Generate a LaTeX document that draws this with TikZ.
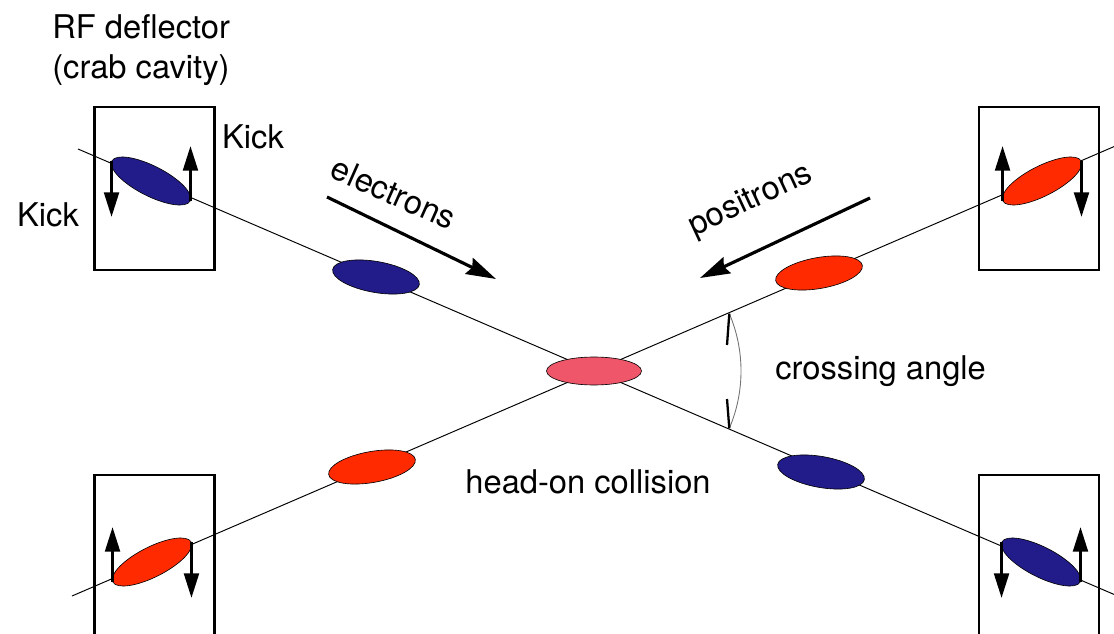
\documentclass[tikz,border=0pt]{standalone}
\usepackage{fontspec}
\setmainfont{TeX Gyre Heros}
\usetikzlibrary{shapes.geometric,arrows.meta}
\definecolor{eblue}{RGB}{34,28,138}
\definecolor{pred}{RGB}{255,42,0}
\definecolor{cpink}{RGB}{240,86,106}
\tikzset{
  beam/.style={line width=0.55pt,black},
  bunch/.style={ellipse,draw=black,line width=0.35pt,inner sep=0pt},
  crabbunch/.style={bunch,minimum width=1.76cm,minimum height=0.6cm},
  midbunch/.style={bunch,minimum width=1.76cm,minimum height=0.62cm},
  cavity/.style={draw,line width=1.4pt,minimum width=2.4cm,minimum height=3.26cm,inner sep=0pt},
  kick/.style={line width=1.4pt,-{Triangle[length=14pt,width=8.5pt]}},
  flow/.style={line width=1.8pt,-{Stealth[length=17pt,width=10pt,inset=2pt]}},
  lbl/.style={font=\fontsize{18.6}{22}\selectfont,inner sep=0pt},
}
\begin{document}
\begin{tikzpicture}[x=0.02cm,y=-0.02cm]
\useasboundingbox (0,0) rectangle (1114,634);
\clip (0,0) rectangle (1114,634);
% beam lines
\coordinate (eL) at (78,149);
\coordinate (eR) at (1120,597);
\coordinate (pL) at (72,596);
\coordinate (pR) at (1120,144);
\coordinate (C0) at (594,371);
\draw[beam] (eL) -- (C0) -- (eR);
\draw[beam] (pL) -- (C0) -- (pR);
% cavities
\node[cavity] (boxTL) at (154.5,188.5) {};
\node[cavity] (boxTR) at (1039,188.5) {};
\node[cavity] (boxBL) at (154.5,556.5) {};
\node[cavity] (boxBR) at (1039,556.5) {};
% crab bunches
\node[crabbunch,fill=eblue,rotate=-27] (tl) at (151,181) {};
\node[crabbunch,fill=pred,rotate=27] (tr) at (1042,181) {};
\node[crabbunch,fill=pred,rotate=27] (bl) at (152,562) {};
\node[crabbunch,fill=eblue,rotate=-27] (br) at (1041,562) {};
% kicks
\draw[kick] (tl.west) -- ++(0,56);
\draw[kick] (tl.east) -- ++(0,-55);
\draw[kick] (tr.west) -- ++(0,-55);
\draw[kick] (tr.east) -- ++(0,56);
\draw[kick] (bl.west) -- ++(0,-55);
\draw[kick] (bl.east) -- ++(0,56);
\draw[kick] (br.west) -- ++(0,56);
\draw[kick] (br.east) -- ++(0,-55);
% travelling bunches
\node[midbunch,fill=eblue,rotate=-10] (e1) at (376,277) {};
\node[midbunch,fill=pred,rotate=10] (p1) at (819,273) {};
\node[midbunch,fill=pred,rotate=10] (p2) at (372,467) {};
\node[midbunch,fill=eblue,rotate=-10] (e2) at (821,472) {};
\node[bunch,fill=cpink,minimum width=1.9cm,minimum height=0.56cm] (C) at (C0) {};
% direction arrows
\coordinate (ea1) at (327,197);
\coordinate (ea2) at (496,279);
\coordinate (pa1) at (870,198);
\coordinate (pa2) at (700,278);
\draw[flow] (ea1) -- (ea2);
\draw[flow] (pa1) -- (pa2);
% crossing angle
\coordinate (ca1) at (729.3,313.6);
\coordinate (ca2) at (729.3,428.4);
\draw[line width=0.5pt,black!55] (ca1) .. controls (744.9,350.3) and (744.9,391.7) .. (ca2);
\draw[line width=1.3pt] (ca1) -- (727,345);
\draw[line width=1.3pt] (ca2) -- (727,399);
% labels
\node[lbl,anchor=west] (rf1) at (52,27) {RF deflector};
\node[lbl,anchor=west] (rf2) at (52,70) {(crab cavity)};
\node[lbl] (k1) at (253,137) {Kick};
\node[lbl] (k2) at (48,215) {Kick};
\node[lbl,rotate=-24] (el) at (394,193) {electrons};
\node[lbl,rotate=25] (po) at (751,201) {positrons};
\node[lbl,anchor=west] (ca) at (775,371) {crossing angle};
\node[lbl] (ho) at (588,482) {head-on collision};
\end{tikzpicture}
\end{document}
